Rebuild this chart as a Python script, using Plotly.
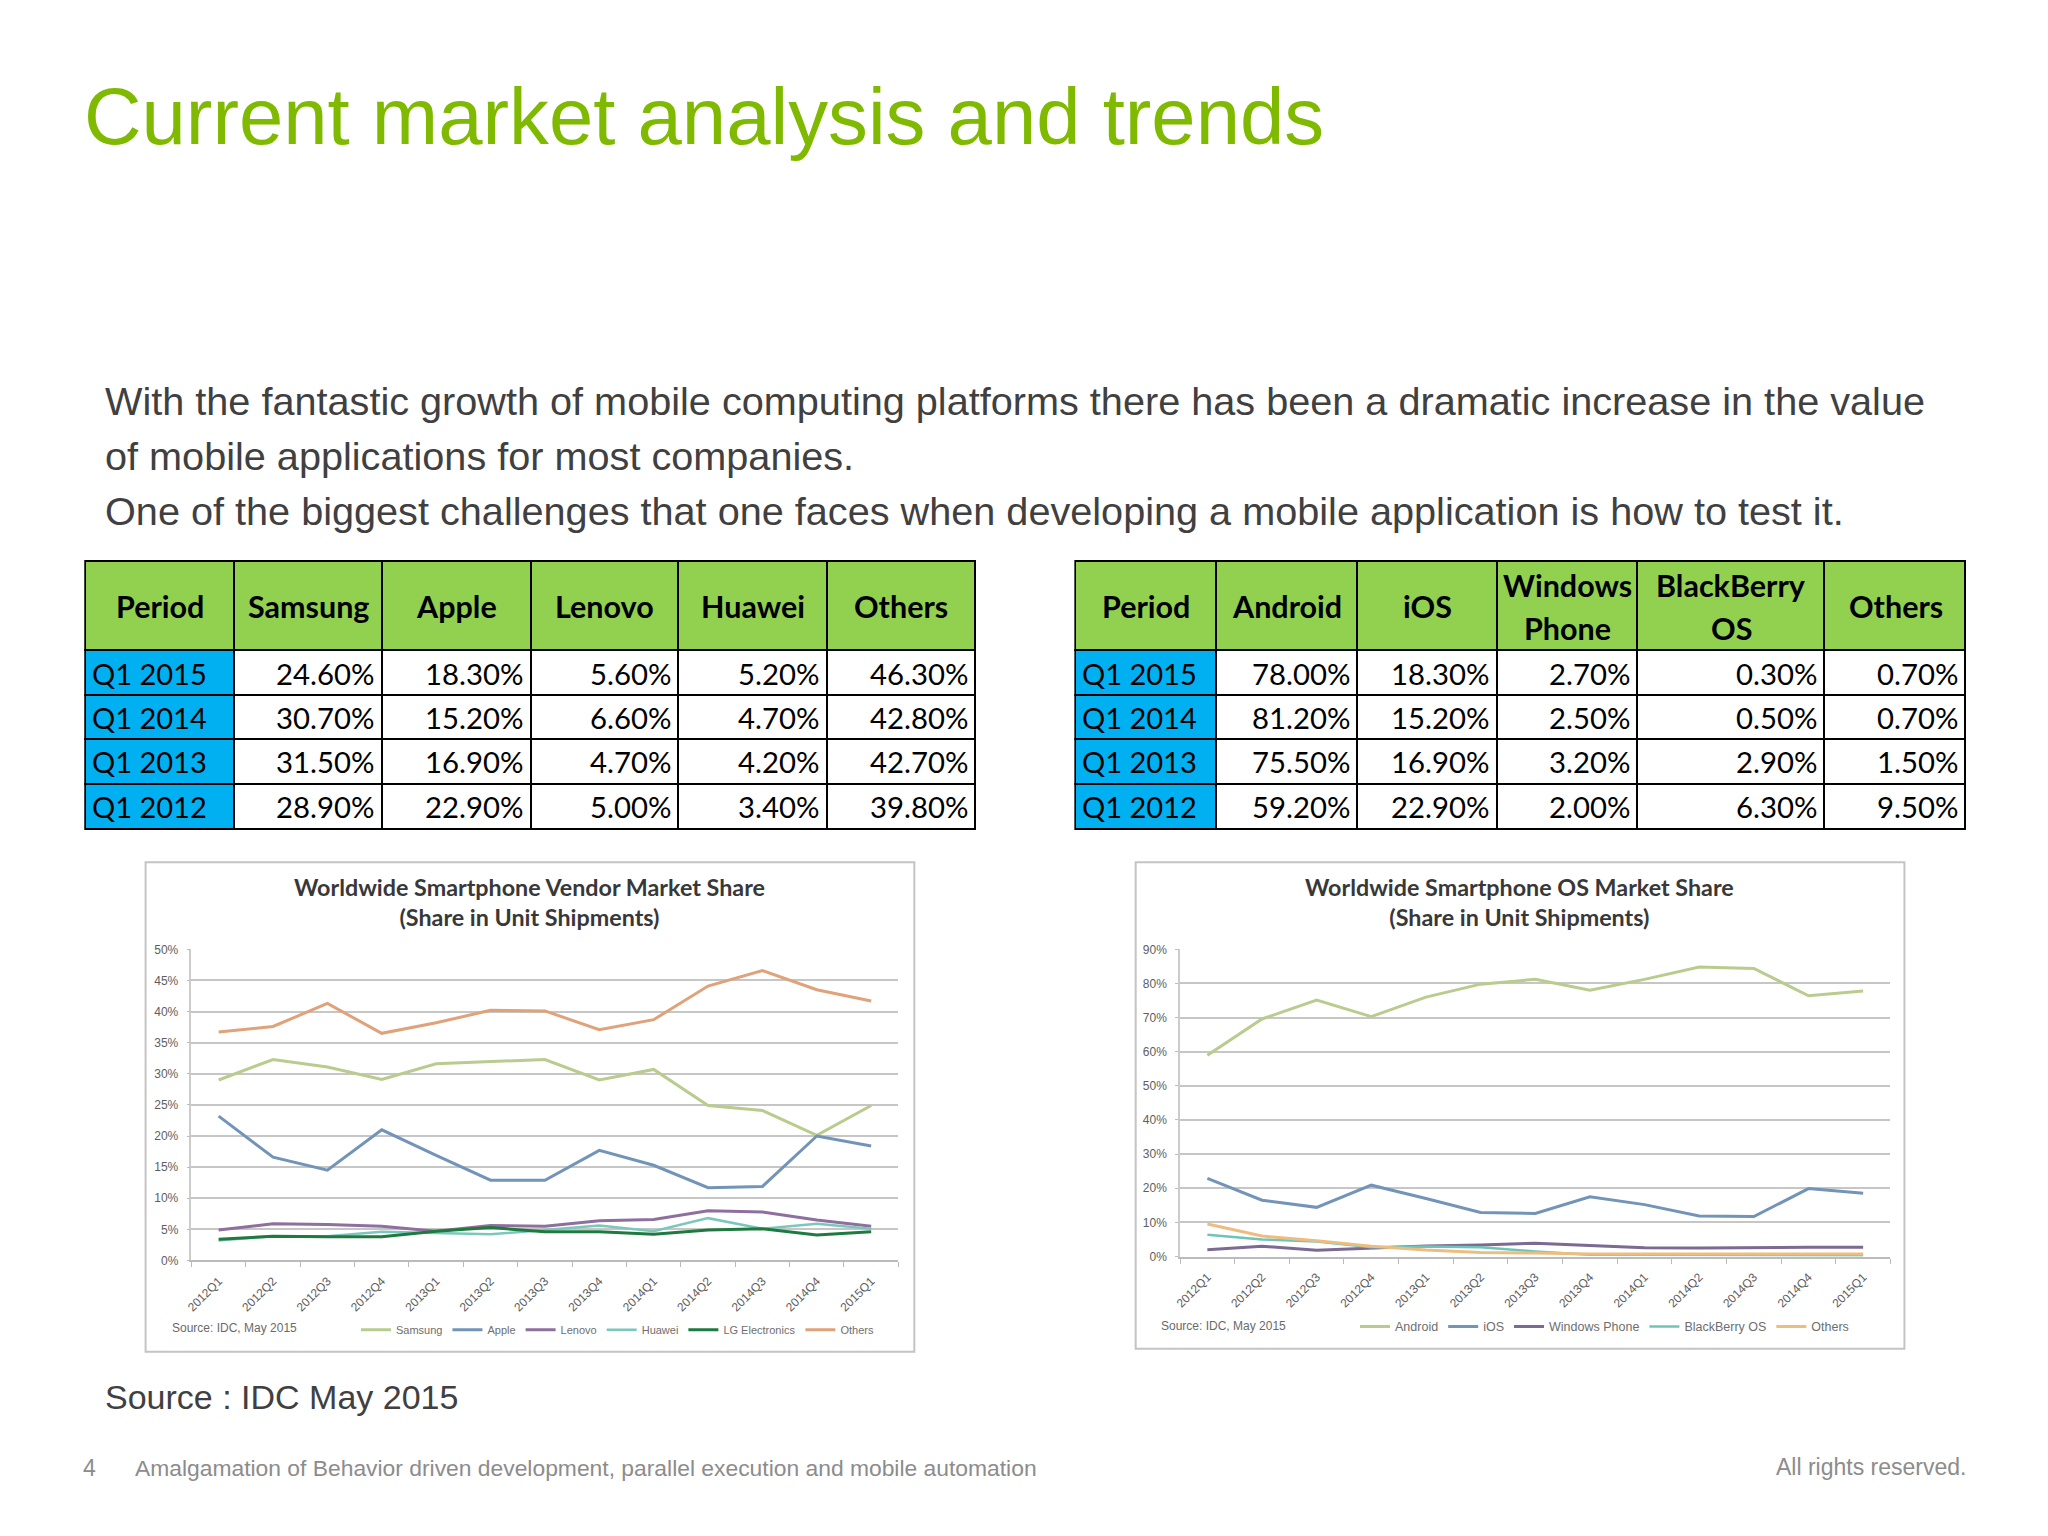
import plotly.graph_objects as go

W, H = 2048, 1536

# ---------- data ----------
title_text = "Current market analysis and trends"
body_lines = [
    "With the fantastic growth of mobile computing platforms there has been a dramatic increase in the value",
    "of mobile applications for most companies.",
    "One of the biggest challenges that one faces when developing a mobile application is how to test it.",
]
source_text = "Source : IDC May 2015"
footer_num = "4"
footer_text = "Amalgamation of Behavior driven development, parallel execution and mobile automation"
rights_text = "All rights reserved."

periods = ["Q1 2015", "Q1 2014", "Q1 2013", "Q1 2012"]
t1_headers = ["Period", "Samsung", "Apple", "Lenovo", "Huawei", "Others"]
t1_samsung = ["24.60%", "30.70%", "31.50%", "28.90%"]
t1_apple = ["18.30%", "15.20%", "16.90%", "22.90%"]
t1_lenovo = ["5.60%", "6.60%", "4.70%", "5.00%"]
t1_huawei = ["5.20%", "4.70%", "4.20%", "3.40%"]
t1_others = ["46.30%", "42.80%", "42.70%", "39.80%"]

t2_headers = ["Period", "Android", "iOS", "Windows<br>Phone", "BlackBerry<br>OS", "Others"]
t2_android = ["78.00%", "81.20%", "75.50%", "59.20%"]
t2_ios = ["18.30%", "15.20%", "16.90%", "22.90%"]
t2_wp = ["2.70%", "2.50%", "3.20%", "2.00%"]
t2_bb = ["0.30%", "0.50%", "2.90%", "6.30%"]
t2_others = ["0.70%", "0.70%", "1.50%", "9.50%"]

quarters = ["2012Q1", "2012Q2", "2012Q3", "2012Q4", "2013Q1", "2013Q2", "2013Q3",
            "2013Q4", "2014Q1", "2014Q2", "2014Q3", "2014Q4", "2015Q1"]

v_samsung = [29.0, 32.3, 31.1, 29.1, 31.6, 31.9, 32.3, 29.0, 30.7, 24.9, 24.1, 20.1, 24.9]
v_apple = [23.2, 16.6, 14.5, 21.0, 16.9, 12.9, 12.9, 17.7, 15.3, 11.7, 11.9, 20.0, 18.4]
v_lenovo = [4.9, 5.9, 5.8, 5.5, 4.7, 5.6, 5.5, 6.4, 6.6, 8.0, 7.8, 6.5, 5.5]
v_huawei = [3.2, 3.9, 3.9, 4.6, 4.4, 4.2, 4.9, 5.6, 4.7, 6.8, 5.1, 5.9, 5.1]
v_lg = [3.4, 3.9, 3.8, 3.8, 4.7, 5.3, 4.6, 4.6, 4.2, 4.9, 5.1, 4.1, 4.6]
v_others = [36.7, 37.6, 41.3, 36.5, 38.2, 40.2, 40.1, 37.1, 38.7, 44.1, 46.6, 43.5, 41.7]

o_android = [59.0, 69.6, 75.1, 70.3, 76.0, 79.8, 81.2, 78.0, 81.2, 84.8, 84.4, 76.4, 77.8]
o_ios = [22.9, 16.5, 14.4, 20.9, 17.0, 12.9, 12.6, 17.5, 15.2, 11.9, 11.7, 19.9, 18.5]
o_wp = [2.0, 3.0, 1.8, 2.5, 3.1, 3.4, 3.9, 3.2, 2.6, 2.5, 2.7, 2.7, 2.7]
o_bb = [6.4, 5.0, 4.4, 2.7, 2.9, 2.7, 1.5, 0.5, 0.5, 0.5, 0.4, 0.3, 0.3]
o_others = [9.5, 6.0, 4.6, 3.0, 1.9, 1.2, 1.0, 0.7, 0.7, 0.7, 0.6, 0.5, 0.7]

vendor_series = [("Samsung", v_samsung, "#B9CC8E", 3), ("Apple", v_apple, "#7294B8", 3),
                 ("Lenovo", v_lenovo, "#8E6F9E", 3), ("Huawei", v_huawei, "#7CC7BC", 2.5),
                 ("LG Electronics", v_lg, "#1E7A3E", 3), ("Others", v_others, "#DFA27A", 3)]
os_series = [("Android", o_android, "#B9CC8E", 3), ("iOS", o_ios, "#7294B8", 3),
             ("Windows Phone", o_wp, "#7B6A92", 3), ("BlackBerry OS", o_bb, "#6FC4B8", 2.5),
             ("Others", o_others, "#EDBD80", 3)]

# ---------- helpers ----------
def px(x):
    return x / W

def py(y):
    return 1 - y / H

GREEN = "#92D050"
BLUE = "#00B0F0"
SANS = "Liberation Sans"
TFONT = "Lato"
HEAD_H = 89
ROW_H = 44.7

def note(x, y, text, size, color, family=SANS, anchor="left"):
    return dict(xref="paper", yref="paper", x=px(x), y=py(y), text=text, showarrow=False,
                xanchor=anchor, yanchor="middle", align=anchor,
                font=dict(family=family, size=size, color=color))

def add_table(fig, y0, edges, headers, cols, name):
    widths = [edges[i + 1] - edges[i] for i in range(len(edges) - 1)]
    fig.add_trace(go.Table(
        name=name,
        domain=dict(x=[px(edges[0]), px(edges[-1])], y=[py(y0 + 276), py(y0)]),
        columnwidth=widths,
        header=dict(values=[""] * len(headers), height=HEAD_H,
                    fill_color=GREEN, line=dict(color="black", width=2)),
        cells=dict(values=[[""] * 4] * len(cols), height=ROW_H,
                   fill_color=[[BLUE] * 4] + [["white"] * 4] * (len(cols) - 1),
                   line=dict(color="black", width=2)),
    ))
    notes = []
    for i, h in enumerate(headers):
        cx = (edges[i] + edges[i + 1]) / 2
        parts = h.split("<br>")
        for j, part in enumerate(parts):
            yc = y0 + 46 + (j - (len(parts) - 1) / 2) * 44
            notes.append(note(cx, yc, f"<b>{part}</b>", 30.5, "black", TFONT, "center"))
    for i, col in enumerate(cols):
        for r, val in enumerate(col):
            yc = y0 + HEAD_H + ROW_H * (r + 0.5) + 2
            if i == 0:
                notes.append(note(edges[0] + 5, yc, val, 29, "black", TFONT, "left"))
            else:
                notes.append(note(edges[i + 1] - 6, yc, val, 29.3, "black", TFONT, "right"))
    return notes

fig = go.Figure()

annotations = []
annotations += add_table(fig, 559, [79.5, 228.5, 377.5, 526.5, 674.5, 823.5, 972.5], t1_headers,
                         [periods, t1_samsung, t1_apple, t1_lenovo, t1_huawei, t1_others], "vendor")
annotations += add_table(fig, 559, [1072.5, 1213.5, 1355.5, 1495.5, 1636.5, 1824.5, 1966], t2_headers,
                         [periods, t2_android, t2_ios, t2_wp, t2_bb, t2_others], "os")

# ---------- line charts ----------
def add_chart(fig, series, xa, ya, leg):
    for name, vals, col, w in series:
        fig.add_trace(go.Scatter(x=quarters, y=vals, name=name, mode="lines",
                                 line=dict(color=col, width=w),
                                 xaxis=xa, yaxis=ya, legend=leg, hoverinfo="skip"))

add_chart(fig, vendor_series, "x", "y", "legend")
add_chart(fig, os_series, "x2", "y2", "legend2")

tick = dict(family=SANS, size=12, color="#5e5e5e")
def xaxis(x0, x1, anchor):
    return dict(domain=[px(x0), px(x1)], anchor=anchor, type="category",
                categoryorder="array", categoryarray=quarters, tickson="boundaries",
                range=[-0.5, 12.5], ticks="outside", ticklen=5, tickcolor="#bbbbbb",
                showline=True, linecolor="#bbbbbb", linewidth=2, showgrid=False,
                tickangle=-45, tickfont=tick, ticklabelstandoff=7)
def yaxis(y0, y1, top, step, anchor):
    return dict(domain=[py(y1), py(y0)], anchor=anchor, range=[0, top], dtick=step,
                ticksuffix="%", ticks="outside", ticklen=3, tickcolor="#bbbbbb",
                showline=True, linecolor="#cccccc", linewidth=1.5,
                gridcolor="#c6c6c6", gridwidth=2, zeroline=False, tickfont=tick,
                ticklabelstandoff=6)

shapes = []
for (x0, y0, x1, y1) in [(140, 863, 911, 1357), (1133, 863, 1904, 1354)]:
    shapes.append(dict(type="rect", xref="paper", yref="paper", x0=px(x0), x1=px(x1),
                       y0=py(y1), y1=py(y0), line=dict(color="#c4c4c4", width=2),
                       fillcolor="rgba(0,0,0,0)", layer="below"))

annotations += [
    note(76.5, 111, title_text, 79.7, "#7FBA00"),
    note(97.5, 398, body_lines[0], 39.65, "#404040"),
    note(97.5, 453.5, body_lines[1], 39.65, "#404040"),
    note(97.5, 509, body_lines[2], 39.65, "#404040"),
    note(97.5, 1403, source_text, 34, "#404040"),
    note(75.5, 1474, footer_num, 23, "#8c8c8c"),
    note(127.5, 1474, footer_text, 22.85, "#8c8c8c"),
    note(1968, 1473, rights_text, 23, "#8c8c8c", anchor="right"),
    note(525, 903, "<b>Worldwide Smartphone Vendor Market Share<br>(Share in Unit Shipments)</b>",
         23.3, "#383838", TFONT, "center"),
    note(1517.5, 903, "<b>Worldwide Smartphone OS Market Share<br>(Share in Unit Shipments)</b>",
         23.3, "#383838", TFONT, "center"),
    note(164, 1333, "Source: IDC, May 2015", 12, "#6a6a6a"),
    note(1156, 1331, "Source: IDC, May 2015", 12, "#6a6a6a"),
]

fig.update_layout(
    width=W, height=H, autosize=False,
    margin=dict(l=0, r=0, t=0, b=0),
    paper_bgcolor="white", plot_bgcolor="white",
    showlegend=True,
    xaxis=xaxis(186, 895, "y"),
    yaxis=yaxis(951, 1265, 50, 5, "x"),
    xaxis2=xaxis(1177.5, 1890, "y2"),
    yaxis2=yaxis(951, 1261, 90, 10, "x2"),
    legend=dict(orientation="h", x=px(351), y=py(1335), xanchor="left", yanchor="middle",
                font=dict(family=SANS, size=11, color="#6e6e6e"),
                bgcolor="rgba(0,0,0,0)", itemwidth=30),
    legend2=dict(orientation="h", x=px(1353), y=py(1332), xanchor="left", yanchor="middle",
                 font=dict(family=SANS, size=12.5, color="#6e6e6e"),
                 bgcolor="rgba(0,0,0,0)", itemwidth=30),
    shapes=shapes,
    annotations=annotations,
)

fig.write_html("out.html", config={"displayModeBar": False},
               post_script="document.body.style.margin='0';document.documentElement.style.overflow='hidden';")
